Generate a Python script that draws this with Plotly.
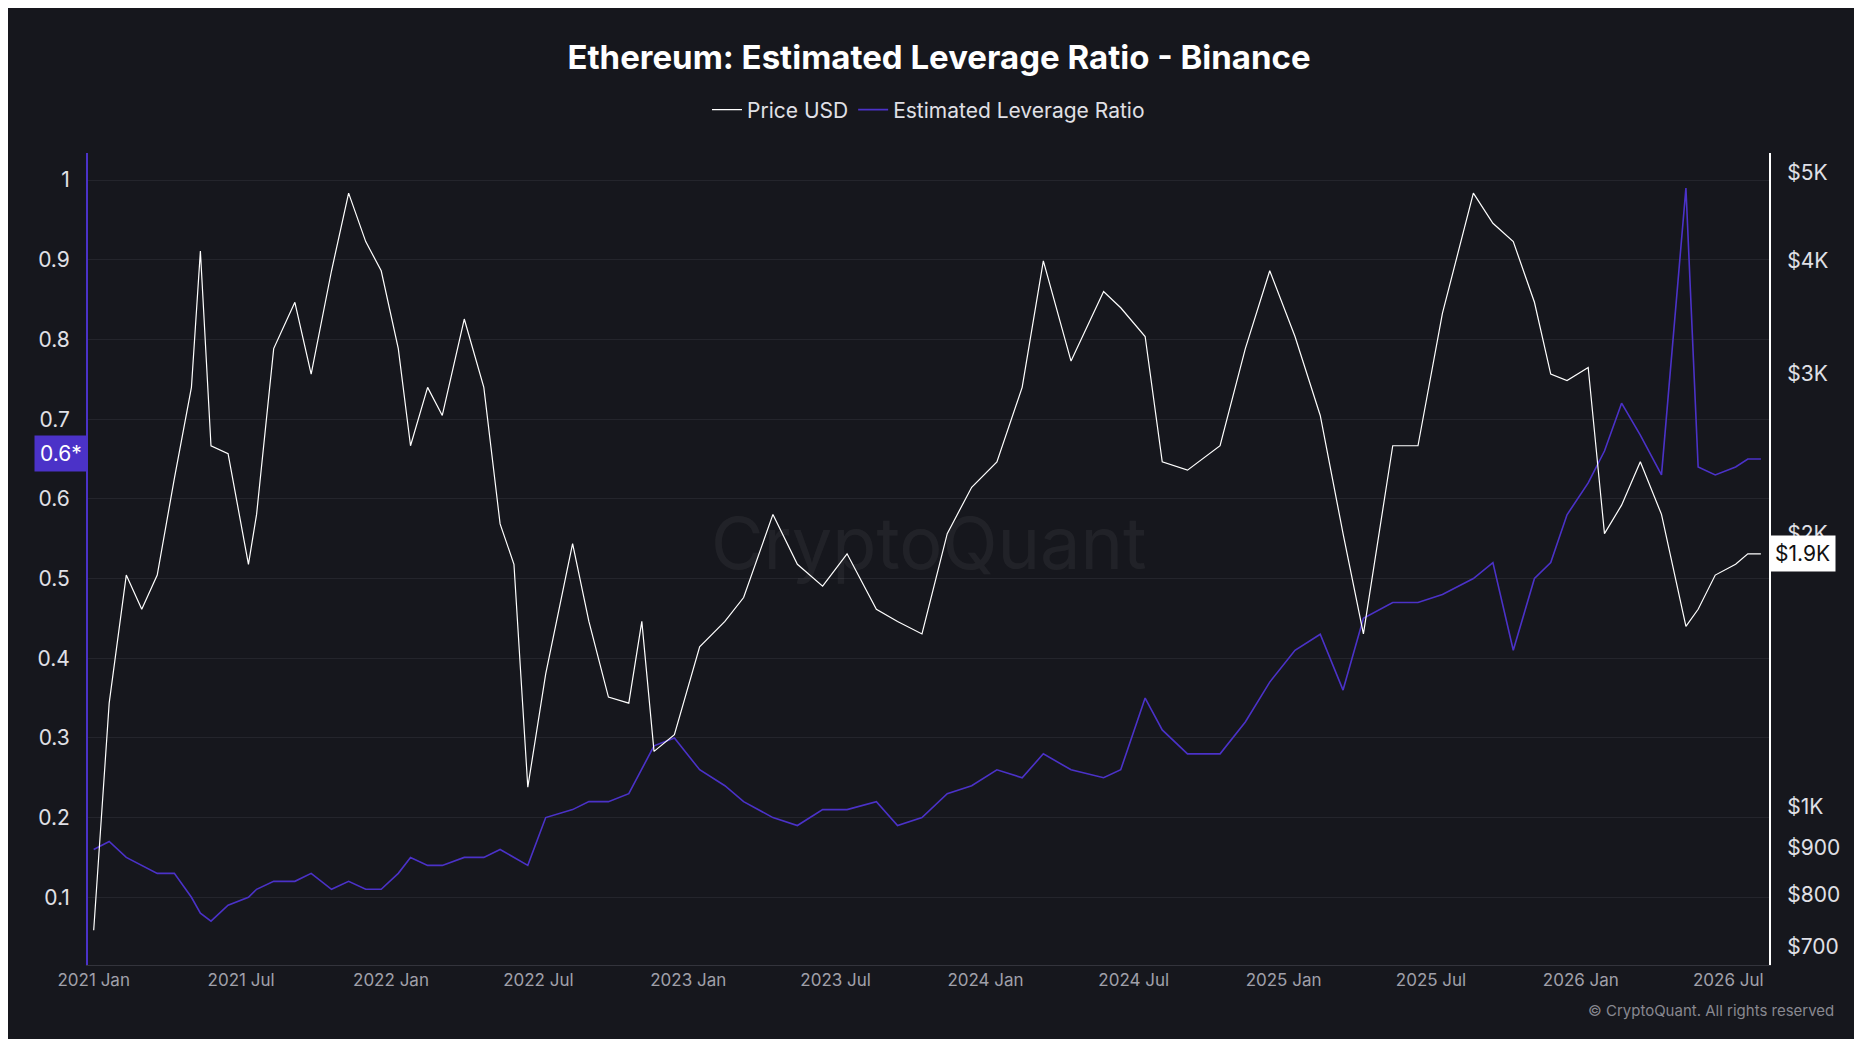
import plotly.graph_objects as go

dates = ["2021-01-01","2021-01-20","2021-02-10","2021-03-01","2021-03-20","2021-04-10","2021-05-01","2021-05-12","2021-05-25","2021-06-15","2021-07-10","2021-07-20","2021-08-10","2021-09-05","2021-09-25","2021-10-20","2021-11-10","2021-12-01","2021-12-20","2022-01-10","2022-01-25","2022-02-15","2022-03-05","2022-04-01","2022-04-25","2022-05-15","2022-06-01","2022-06-18","2022-07-10","2022-08-12","2022-09-01","2022-09-25","2022-10-20","2022-11-05","2022-11-20","2022-12-15","2023-01-15","2023-02-15","2023-03-10","2023-04-15","2023-05-15","2023-06-15","2023-07-15","2023-08-20","2023-09-15","2023-10-15","2023-11-15","2023-12-15","2024-01-15","2024-02-15","2024-03-12","2024-04-15","2024-05-25","2024-06-15","2024-07-15","2024-08-05","2024-09-05","2024-10-15","2024-11-15","2024-12-15","2025-01-15","2025-02-15","2025-03-15","2025-04-09","2025-05-15","2025-06-15","2025-07-15","2025-08-22","2025-09-15","2025-10-10","2025-11-05","2025-11-25","2025-12-15","2026-01-10","2026-01-30","2026-02-20","2026-03-15","2026-04-10","2026-05-10","2026-05-25","2026-06-15","2026-07-10","2026-07-25","2026-08-10"]
price = [730,1300,1800,1650,1800,2300,2900,4100,2500,2450,1850,2100,3200,3600,3000,3900,4750,4200,3900,3200,2500,2900,2700,3450,2900,2050,1850,1050,1400,1950,1600,1320,1300,1600,1150,1200,1500,1600,1700,2100,1850,1750,1900,1650,1600,1550,2000,2250,2400,2900,4000,3100,3700,3550,3300,2400,2350,2500,3200,3900,3300,2700,2000,1550,2500,2500,3500,4750,4400,4200,3600,3000,2950,3050,2000,2150,2400,2100,1580,1650,1800,1850,1900,1900]

lev = [0.16,0.17,0.15,0.14,0.13,0.13,0.1,0.08,0.07,0.09,0.1,0.11,0.12,0.12,0.13,0.11,0.12,0.11,0.11,0.13,0.15,0.14,0.14,0.15,0.15,0.16,0.15,0.14,0.2,0.21,0.22,0.22,0.23,0.26,0.29,0.3,0.26,0.24,0.22,0.2,0.19,0.21,0.21,0.22,0.19,0.2,0.23,0.24,0.26,0.25,0.28,0.26,0.25,0.26,0.35,0.31,0.28,0.28,0.32,0.37,0.41,0.43,0.36,0.45,0.47,0.47,0.48,0.5,0.52,0.41,0.5,0.52,0.58,0.62,0.66,0.72,0.68,0.63,0.99,0.64,0.63,0.64,0.65,0.65]

ptick_vals = [700,800,900,1000,2000,3000,4000,5000]
ptick_text = ["$700","$800","$900","$1K","$2K","$3K","$4K","$5K"]

bg = "#16171d"
fig = go.Figure()
fig.add_trace(go.Scatter(x=dates, y=lev, name="Estimated Leverage Ratio", mode="lines",
                         line=dict(color="#4b32c8", width=1.6), yaxis="y"))
fig.add_trace(go.Scatter(x=dates, y=price, name="Price USD", mode="lines",
                         line=dict(color="#ffffff", width=1.2), yaxis="y2"))
fig.update_layout(
    width=1862, height=1039, paper_bgcolor=bg, plot_bgcolor=bg,
    margin=dict(l=80, r=101, t=145, b=82),
    font=dict(family="Inter, Roboto, sans-serif", color="#d0d0d8", size=19),
    title=dict(text="<b>Ethereum: Estimated Leverage Ratio - Binance</b>", x=0.5, y=0.952, yanchor="middle",
               xanchor="center", font=dict(size=33, color="#ffffff")),
    legend=dict(orientation="h", x=0.5, xanchor="center", y=1.053, yanchor="middle",
                traceorder="reversed", font=dict(size=21, color="#e0e0e6"), bgcolor="rgba(0,0,0,0)"),
    showlegend=True,
    xaxis=dict(type="date", range=["2020-12-25","2026-08-20"], showgrid=False,
               tickvals=["2021-01-01","2021-07-01","2022-01-01","2022-07-01","2023-01-01","2023-07-01","2024-01-01","2024-07-01","2025-01-01","2025-07-01","2026-01-01","2026-07-01"],
               ticktext=["2021 Jan","2021 Jul","2022 Jan","2022 Jul","2023 Jan","2023 Jul","2024 Jan","2024 Jul","2025 Jan","2025 Jul","2026 Jan","2026 Jul"],
               tickfont=dict(size=17, color="#a0a0aa"), showline=True, linecolor="#33343c", ticks=""),
    yaxis=dict(range=[0.015, 1.034], tickvals=[0.1,0.2,0.3,0.4,0.5,0.6,0.7,0.8,0.9,1],
               gridcolor="#24252c", showline=True, linecolor="#4b32c8", linewidth=2,
               tickfont=dict(size=21, color="#e0e0e6"), zeroline=False, ticks="outside", ticklen=12, tickcolor=bg),
    yaxis2=dict(type="log", overlaying="y", side="right", range=[2.825, 3.721],
                tickvals=ptick_vals, ticktext=ptick_text, showgrid=False, showline=True,
                linecolor="#ffffff", linewidth=2, tickfont=dict(size=21, color="#e0e0e6"),
                ticks="outside", ticklen=12, tickcolor=bg),
)
fig.add_annotation(text="CryptoQuant", xref="paper", yref="paper", x=0.5, y=0.52, showarrow=False,
                   font=dict(size=72, color="rgba(255,255,255,0.05)"))
fig.add_annotation(text="© CryptoQuant. All rights reserved", xref="paper", yref="paper", x=1.04, y=-0.07,
                   xanchor="right", showarrow=False, font=dict(size=15, color="#888890"))
fig.add_annotation(text="$1.9K", xref="paper", yref="y2", x=1.0, y=3.2788, xanchor="left", showarrow=False,
                   bgcolor="#ffffff", font=dict(size=21, color="#111111"), borderpad=5)
fig.add_annotation(text="0.6*", xref="paper", yref="y", x=0.0, y=0.657, xanchor="right", showarrow=False,
                   bgcolor="#4b32c8", font=dict(size=21, color="#ffffff"), borderpad=5)
fig.write_html("out.html")
